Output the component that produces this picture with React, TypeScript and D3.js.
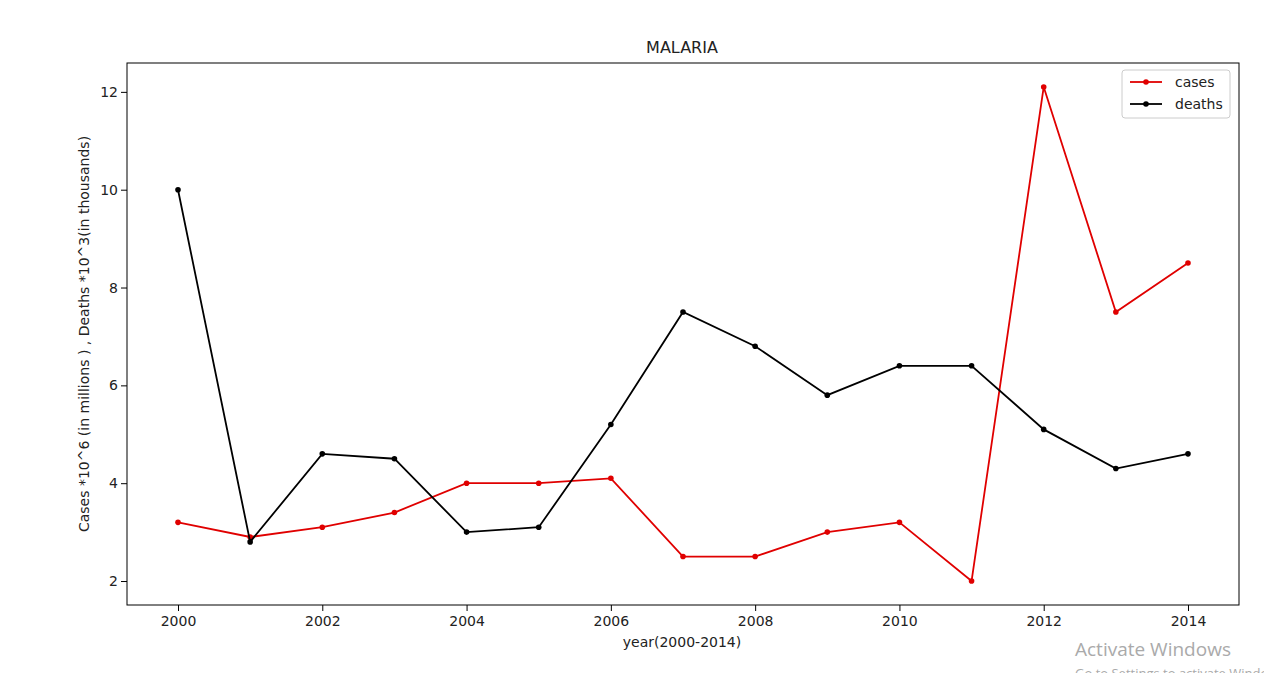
import { useRef, useEffect } from "react";
import * as d3 from "d3";

const years = d3.range(2000, 2015);
const cases = [3.2, 2.9, 3.1, 3.4, 4.0, 4.0, 4.1, 2.5, 2.5, 3.0, 3.2, 2.0, 12.1, 7.5, 8.5];
const deaths = [10, 2.8, 4.6, 4.5, 3.0, 3.1, 5.2, 7.5, 6.8, 5.8, 6.4, 6.4, 5.1, 4.3, 4.6];
const xTicks = [2000, 2002, 2004, 2006, 2008, 2010, 2012, 2014];
const yTicks = [2, 4, 6, 8, 10, 12];

const App = () => {
  const svgRef = useRef(null);

  useEffect(() => {
    const svg = d3.select(svgRef.current);
    svg.selectAll("*").remove();
    const font = "DejaVu Sans, sans-serif";
    const left = 127, right = 1239, top = 63, bottom = 605;

    const x = d3.scaleLinear().domain([1999.293, 2014.707]).range([left, right]);
    const y = d3.scaleLinear().domain([1.51, 12.59]).range([bottom, top]);

    svg.append("g")
      .attr("transform", `translate(0,${bottom})`)
      .call(d3.axisBottom(x).tickValues(xTicks).tickFormat(d3.format("d")).tickSizeOuter(0))
      .call((g) => g.selectAll("text").attr("font-size", 14).attr("dy", "0.85em").attr("font-family", font).attr("fill", "#222"));
    svg.append("g")
      .attr("transform", `translate(${left},0)`)
      .call(d3.axisLeft(y).tickValues(yTicks).tickSizeOuter(0))
      .call((g) => g.selectAll("text").attr("font-size", 14).attr("font-family", font).attr("fill", "#222"));
    svg.selectAll(".domain").remove();

    svg.append("rect")
      .attr("x", left).attr("y", top)
      .attr("width", right - left).attr("height", bottom - top)
      .attr("fill", "none").attr("stroke", "#000");

    const series = [
      { name: "cases", values: cases, color: "#e00000" },
      { name: "deaths", values: deaths, color: "#000" },
    ];
    const line = d3.line<number>().x((_, i) => x(years[i])).y((d) => y(d));

    series.forEach((s) => {
      svg.append("path")
        .attr("d", line(s.values))
        .attr("fill", "none").attr("stroke", s.color).attr("stroke-width", 1.8);
      svg.append("g").selectAll("circle").data(s.values).join("circle")
        .attr("cx", (_, i) => x(years[i])).attr("cy", (d) => y(d))
        .attr("r", 2.8).attr("fill", s.color);
    });

    // legend
    const lg = svg.append("g").attr("transform", "translate(1122,70)");
    lg.append("rect").attr("width", 108).attr("height", 48).attr("rx", 3)
      .attr("fill", "#fff").attr("stroke", "#ccc");
    series.forEach((s, i) => {
      const ly = 12 + i * 22;
      lg.append("line").attr("x1", 8).attr("x2", 40).attr("y1", ly).attr("y2", ly)
        .attr("stroke", s.color).attr("stroke-width", 1.8);
      lg.append("circle").attr("cx", 24).attr("cy", ly).attr("r", 2.8).attr("fill", s.color);
      lg.append("text").attr("x", 53).attr("y", ly + 5).text(s.name)
        .attr("font-size", 14).attr("font-family", font).attr("fill", "#222");
    });

    svg.append("text").attr("x", 682).attr("y", 53).attr("text-anchor", "middle")
      .attr("font-size", 16).attr("font-family", font).attr("fill", "#222").text("MALARIA");
    svg.append("text").attr("x", 682).attr("y", 647).attr("text-anchor", "middle")
      .attr("font-size", 14).attr("font-family", font).attr("fill", "#222").text("year(2000-2014)");
    svg.append("text").attr("transform", `translate(89,${(top + bottom) / 2}) rotate(-90)`)
      .attr("text-anchor", "middle").attr("font-size", 14).attr("font-family", font).attr("fill", "#222")
      .text("Cases *10^6 (in millions )  , Deaths *10^3(in thousands)");

    svg.append("text").attr("x", 1075).attr("y", 656)
      .attr("font-size", 19).attr("font-family", "Segoe UI, Open Sans, sans-serif").attr("fill", "#aaa")
      .text("Activate Windows");
    svg.append("text").attr("x", 1075).attr("y", 678)
      .attr("font-size", 13).attr("font-family", "Segoe UI, Open Sans, sans-serif").attr("fill", "#aaa")
      .text("Go to Settings to activate Windows.");
  }, []);

  return (
    <div style={{ position: "fixed", left: 0, top: 0 }}>
      <svg ref={svgRef} width={1264} height={673} style={{ display: "block", background: "#fff" }}></svg>
    </div>
  );
};

export default App;
